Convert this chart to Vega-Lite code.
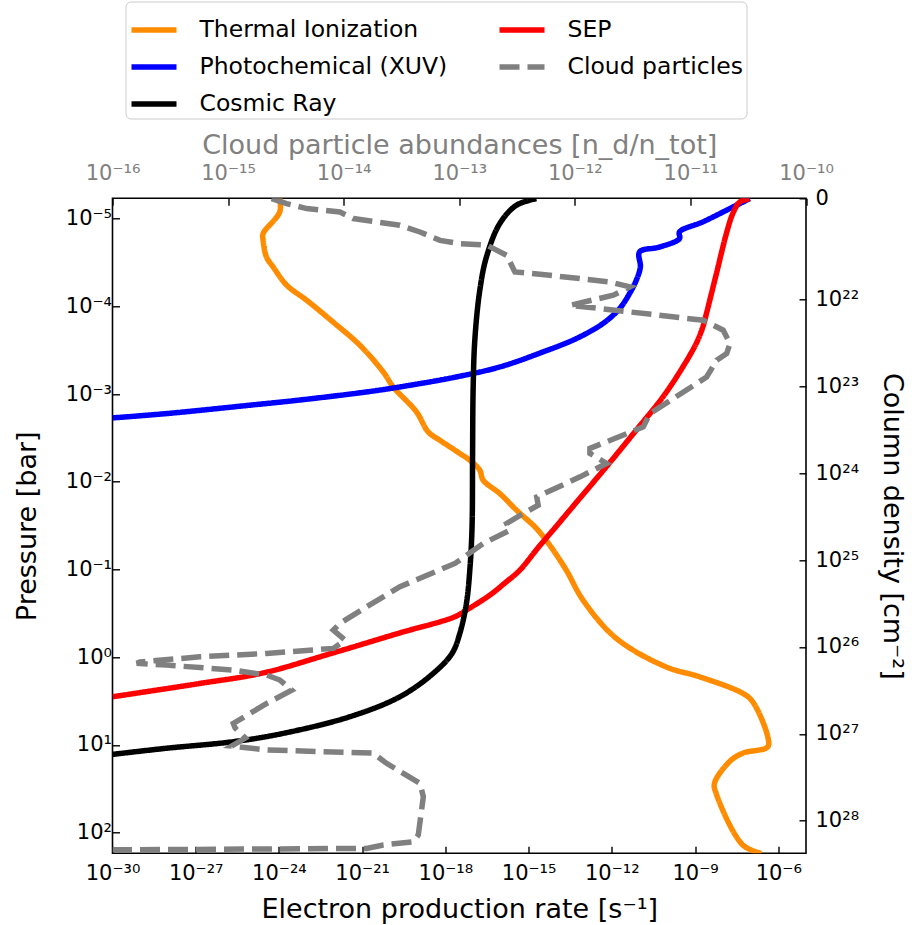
{
  "$schema": "https://vega.github.io/schema/vega-lite/v6.json",
  "width": 693.5,
  "height": 655,
  "autosize": "none",
  "padding": {"left": 112.5, "top": 198.3, "right": 106, "bottom": 71.7},
  "background": "#ffffff",
  "config": {
    "font": "DejaVu Sans",
    "view": {"stroke": "#000000", "strokeWidth": 1.6},
    "axis": {
      "domain": false, "grid": false, "tickColor": "#000000", "tickSize": -7, "tickWidth": 1.4,
      "labelFontSize": 21, "labelColor": "#000000", "labelPadding": 8, "labelFlush": false, "labelOverlap": false,
      "titleFontSize": 27, "titleFontWeight": "normal", "titleColor": "#000000"
    },
    "legend": {
      "orient": "none", "legendX": 13, "legendY": -196.8, "columns": 2,
      "labelFontSize": 23.5, "labelColor": "#000000", "symbolType": "stroke",
      "symbolSize": 2025, "symbolStrokeWidth": 5.5, "labelOffset": 20,
      "columnPadding": 41, "rowPadding": 0, "padding": 3,
      "strokeColor": "#cccccc", "fillColor": "#ffffff", "cornerRadius": 5, "labelLimit": 400
    }
  },
  "datasets": {
    "rates": [
      {"s": "Thermal Ionization", "x": 1.07e-24, "p": 5.92e-6},
      {"s": "Thermal Ionization", "x": 1.07e-24, "p": 8.41e-6},
      {"s": "Thermal Ionization", "x": 2.69e-25, "p": 1.48e-5},
      {"s": "Thermal Ionization", "x": 2.69e-25, "p": 1.77e-5},
      {"s": "Thermal Ionization", "x": 3.55e-25, "p": 2.74e-5},
      {"s": "Thermal Ionization", "x": 6.17e-25, "p": 3.56e-5},
      {"s": "Thermal Ionization", "x": 1.91e-24, "p": 5.75e-5},
      {"s": "Thermal Ionization", "x": 1.0e-23, "p": 8.53e-5},
      {"s": "Thermal Ionization", "x": 8.91e-23, "p": 1.51e-4},
      {"s": "Thermal Ionization", "x": 8.32e-22, "p": 2.78e-4},
      {"s": "Thermal Ionization", "x": 5.75e-21, "p": 5.60e-4},
      {"s": "Thermal Ionization", "x": 1.32e-20, "p": 8.30e-4},
      {"s": "Thermal Ionization", "x": 9.12e-20, "p": 1.60e-3},
      {"s": "Thermal Ionization", "x": 2.40e-19, "p": 2.70e-3},
      {"s": "Thermal Ionization", "x": 6.31e-19, "p": 3.36e-3},
      {"s": "Thermal Ionization", "x": 3.31e-18, "p": 4.75e-3},
      {"s": "Thermal Ionization", "x": 7.59e-18, "p": 5.68e-3},
      {"s": "Thermal Ionization", "x": 1.74e-17, "p": 7.38e-3},
      {"s": "Thermal Ionization", "x": 2.29e-17, "p": 9.59e-3},
      {"s": "Thermal Ionization", "x": 9.12e-17, "p": 1.36e-2},
      {"s": "Thermal Ionization", "x": 3.63e-16, "p": 2.10e-2},
      {"s": "Thermal Ionization", "x": 1.91e-15, "p": 3.40e-2},
      {"s": "Thermal Ionization", "x": 5.75e-15, "p": 5.27e-2},
      {"s": "Thermal Ionization", "x": 2.29e-14, "p": 0.102},
      {"s": "Thermal Ionization", "x": 9.12e-14, "p": 0.223},
      {"s": "Thermal Ionization", "x": 1.45e-12, "p": 0.610},
      {"s": "Thermal Ionization", "x": 9.12e-11, "p": 1.29},
      {"s": "Thermal Ionization", "x": 1.45e-9, "p": 1.67},
      {"s": "Thermal Ionization", "x": 5.25e-8, "p": 2.58},
      {"s": "Thermal Ionization", "x": 1.20e-7, "p": 3.22},
      {"s": "Thermal Ionization", "x": 4.17e-7, "p": 8.05},
      {"s": "Thermal Ionization", "x": 4.17e-7, "p": 10.5},
      {"s": "Thermal Ionization", "x": 5.25e-8, "p": 12.4},
      {"s": "Thermal Ionization", "x": 1.74e-8, "p": 15.5},
      {"s": "Thermal Ionization", "x": 5.01e-9, "p": 27.4},
      {"s": "Thermal Ionization", "x": 5.75e-9, "p": 35.6},
      {"s": "Thermal Ionization", "x": 5.25e-8, "p": 138},
      {"s": "Thermal Ionization", "x": 2.45e-7, "p": 172},
      {"s": "Photochemical (XUV)", "x": 1.02e-30, "p": 1.87e-3},
      {"s": "Photochemical (XUV)", "x": 8.91e-29, "p": 1.67e-3},
      {"s": "Photochemical (XUV)", "x": 8.91e-26, "p": 1.34e-3},
      {"s": "Photochemical (XUV)", "x": 5.62e-24, "p": 1.17e-3},
      {"s": "Photochemical (XUV)", "x": 1.45e-21, "p": 9.46e-4},
      {"s": "Photochemical (XUV)", "x": 2.29e-20, "p": 8.30e-4},
      {"s": "Photochemical (XUV)", "x": 2.19e-18, "p": 6.43e-4},
      {"s": "Photochemical (XUV)", "x": 9.12e-17, "p": 4.91e-4},
      {"s": "Photochemical (XUV)", "x": 3.31e-15, "p": 3.31e-4},
      {"s": "Photochemical (XUV)", "x": 5.25e-14, "p": 2.33e-4},
      {"s": "Photochemical (XUV)", "x": 4.79e-13, "p": 1.57e-4},
      {"s": "Photochemical (XUV)", "x": 1.91e-12, "p": 1.06e-4},
      {"s": "Photochemical (XUV)", "x": 4.37e-12, "p": 7.14e-5},
      {"s": "Photochemical (XUV)", "x": 7.59e-12, "p": 5.05e-5},
      {"s": "Photochemical (XUV)", "x": 1.07e-11, "p": 3.56e-5},
      {"s": "Photochemical (XUV)", "x": 1.0e-11, "p": 2.40e-5},
      {"s": "Photochemical (XUV)", "x": 5.25e-11, "p": 2.11e-5},
      {"s": "Photochemical (XUV)", "x": 2.75e-10, "p": 1.69e-5},
      {"s": "Photochemical (XUV)", "x": 2.75e-10, "p": 1.42e-5},
      {"s": "Photochemical (XUV)", "x": 1.91e-9, "p": 1.09e-5},
      {"s": "Photochemical (XUV)", "x": 3.09e-8, "p": 7.05e-6},
      {"s": "Photochemical (XUV)", "x": 9.33e-8, "p": 5.92e-6},
      {"s": "SEP", "x": 9.33e-8, "p": 5.92e-6},
      {"s": "SEP", "x": 4.07e-8, "p": 6.47e-6},
      {"s": "SEP", "x": 2.29e-8, "p": 8.77e-6},
      {"s": "SEP", "x": 1.35e-8, "p": 1.48e-5},
      {"s": "SEP", "x": 5.89e-9, "p": 4.24e-5},
      {"s": "SEP", "x": 2.57e-9, "p": 1.21e-4},
      {"s": "SEP", "x": 1.91e-9, "p": 1.72e-4},
      {"s": "SEP", "x": 1.10e-9, "p": 2.65e-4},
      {"s": "SEP", "x": 3.63e-10, "p": 4.91e-4},
      {"s": "SEP", "x": 6.92e-11, "p": 1.08e-3},
      {"s": "SEP", "x": 7.59e-12, "p": 2.58e-3},
      {"s": "SEP", "x": 6.31e-13, "p": 6.76e-3},
      {"s": "SEP", "x": 6.92e-14, "p": 1.55e-2},
      {"s": "SEP", "x": 8.7e-15, "p": 3.38e-2},
      {"s": "SEP", "x": 2.14e-15, "p": 5.70e-2},
      {"s": "SEP", "x": 4.79e-16, "p": 0.102},
      {"s": "SEP", "x": 1.38e-16, "p": 0.143},
      {"s": "SEP", "x": 3.98e-17, "p": 0.196},
      {"s": "SEP", "x": 5.75e-18, "p": 0.290},
      {"s": "SEP", "x": 2.19e-18, "p": 0.346},
      {"s": "SEP", "x": 2.29e-20, "p": 0.528},
      {"s": "SEP", "x": 8.91e-23, "p": 0.893},
      {"s": "SEP", "x": 2.69e-25, "p": 1.51},
      {"s": "SEP", "x": 1.41e-27, "p": 1.99},
      {"s": "SEP", "x": 1.02e-30, "p": 2.82},
      {"s": "Cosmic Ray", "x": 1.91e-15, "p": 5.92e-6},
      {"s": "Cosmic Ray", "x": 3.63e-16, "p": 7.05e-6},
      {"s": "Cosmic Ray", "x": 9.12e-17, "p": 1.14e-5},
      {"s": "Cosmic Ray", "x": 3.02e-17, "p": 2.74e-5},
      {"s": "Cosmic Ray", "x": 1.74e-17, "p": 6.56e-5},
      {"s": "Cosmic Ray", "x": 1.15e-17, "p": 2.44e-4},
      {"s": "Cosmic Ray", "x": 1.0e-17, "p": 9.04e-4},
      {"s": "Cosmic Ray", "x": 9.55e-18, "p": 5.20e-3},
      {"s": "Cosmic Ray", "x": 9.12e-18, "p": 3.40e-2},
      {"s": "Cosmic Ray", "x": 7.59e-18, "p": 0.102},
      {"s": "Cosmic Ray", "x": 5.75e-18, "p": 0.243},
      {"s": "Cosmic Ray", "x": 3.31e-18, "p": 0.535},
      {"s": "Cosmic Ray", "x": 1.74e-18, "p": 0.904},
      {"s": "Cosmic Ray", "x": 3.63e-19, "p": 1.53},
      {"s": "Cosmic Ray", "x": 2.29e-20, "p": 2.82},
      {"s": "Cosmic Ray", "x": 3.63e-22, "p": 4.76},
      {"s": "Cosmic Ray", "x": 1.41e-24, "p": 7.38},
      {"s": "Cosmic Ray", "x": 2.24e-26, "p": 9.18},
      {"s": "Cosmic Ray", "x": 8.91e-29, "p": 10.9},
      {"s": "Cosmic Ray", "x": 1.02e-30, "p": 12.8}
    ],
    "cloud": [
      {"s": "Cloud particles", "a": 2.38e-15, "p": 5.92e-6},
      {"s": "Cloud particles", "a": 3.21e-15, "p": 6.75e-6},
      {"s": "Cloud particles", "a": 4.79e-15, "p": 7.69e-6},
      {"s": "Cloud particles", "a": 9.29e-15, "p": 8.41e-6},
      {"s": "Cloud particles", "a": 1.21e-14, "p": 1.0e-5},
      {"s": "Cloud particles", "a": 3.07e-14, "p": 1.19e-5},
      {"s": "Cloud particles", "a": 4.57e-14, "p": 1.42e-5},
      {"s": "Cloud particles", "a": 6.81e-14, "p": 1.77e-5},
      {"s": "Cloud particles", "a": 1.01e-13, "p": 1.93e-5},
      {"s": "Cloud particles", "a": 1.73e-13, "p": 2.01e-5},
      {"s": "Cloud particles", "a": 2.57e-13, "p": 2.62e-5},
      {"s": "Cloud particles", "a": 3.03e-13, "p": 4.06e-5},
      {"s": "Cloud particles", "a": 6.10e-13, "p": 4.43e-5},
      {"s": "Cloud particles", "a": 2.01e-12, "p": 5.27e-5},
      {"s": "Cloud particles", "a": 3.00e-12, "p": 6.01e-5},
      {"s": "Cloud particles", "a": 2.15e-12, "p": 7.48e-5},
      {"s": "Cloud particles", "a": 9.08e-13, "p": 9.73e-5},
      {"s": "Cloud particles", "a": 1.65e-12, "p": 1.06e-4},
      {"s": "Cloud particles", "a": 1.29e-11, "p": 1.44e-4},
      {"s": "Cloud particles", "a": 1.92e-11, "p": 1.87e-4},
      {"s": "Cloud particles", "a": 2.20e-11, "p": 2.65e-4},
      {"s": "Cloud particles", "a": 2.06e-11, "p": 3.45e-4},
      {"s": "Cloud particles", "a": 1.69e-11, "p": 4.11e-4},
      {"s": "Cloud particles", "a": 1.38e-11, "p": 6.38e-4},
      {"s": "Cloud particles", "a": 1.13e-11, "p": 7.59e-4},
      {"s": "Cloud particles", "a": 4.47e-12, "p": 1.67e-3},
      {"s": "Cloud particles", "a": 3.91e-12, "p": 2.37e-3},
      {"s": "Cloud particles", "a": 1.35e-12, "p": 4.17e-3},
      {"s": "Cloud particles", "a": 1.35e-12, "p": 4.75e-3},
      {"s": "Cloud particles", "a": 1.88e-12, "p": 6.18e-3},
      {"s": "Cloud particles", "a": 1.11e-12, "p": 8.79e-3},
      {"s": "Cloud particles", "a": 4.68e-13, "p": 1.49e-2},
      {"s": "Cloud particles", "a": 4.82e-13, "p": 1.85e-2},
      {"s": "Cloud particles", "a": 3.58e-13, "p": 2.30e-2},
      {"s": "Cloud particles", "a": 2.57e-13, "p": 2.99e-2},
      {"s": "Cloud particles", "a": 2.75e-13, "p": 3.56e-2},
      {"s": "Cloud particles", "a": 1.61e-13, "p": 5.05e-2},
      {"s": "Cloud particles", "a": 9.18e-14, "p": 8.53e-2},
      {"s": "Cloud particles", "a": 3.07e-14, "p": 0.157},
      {"s": "Cloud particles", "a": 1.58e-14, "p": 0.266},
      {"s": "Cloud particles", "a": 9.29e-15, "p": 0.411},
      {"s": "Cloud particles", "a": 8.13e-15, "p": 0.491},
      {"s": "Cloud particles", "a": 1.03e-14, "p": 0.638},
      {"s": "Cloud particles", "a": 8.13e-15, "p": 0.793},
      {"s": "Cloud particles", "a": 2.16e-15, "p": 0.904},
      {"s": "Cloud particles", "a": 5.71e-16, "p": 0.989},
      {"s": "Cloud particles", "a": 1.73e-16, "p": 1.13},
      {"s": "Cloud particles", "a": 1.62e-16, "p": 1.17},
      {"s": "Cloud particles", "a": 2.94e-16, "p": 1.23},
      {"s": "Cloud particles", "a": 1.11e-15, "p": 1.40},
      {"s": "Cloud particles", "a": 2.16e-15, "p": 1.60},
      {"s": "Cloud particles", "a": 2.81e-15, "p": 1.82},
      {"s": "Cloud particles", "a": 3.55e-15, "p": 2.37},
      {"s": "Cloud particles", "a": 2.16e-15, "p": 3.36},
      {"s": "Cloud particles", "a": 1.11e-15, "p": 5.68},
      {"s": "Cloud particles", "a": 1.15e-15, "p": 6.41},
      {"s": "Cloud particles", "a": 1.41e-15, "p": 8.34},
      {"s": "Cloud particles", "a": 1.07e-15, "p": 10.3},
      {"s": "Cloud particles", "a": 2.16e-15, "p": 11.4},
      {"s": "Cloud particles", "a": 1.80e-14, "p": 12.4},
      {"s": "Cloud particles", "a": 2.35e-14, "p": 16.2},
      {"s": "Cloud particles", "a": 4.57e-14, "p": 27.4},
      {"s": "Cloud particles", "a": 4.89e-14, "p": 38.9},
      {"s": "Cloud particles", "a": 4.42e-14, "p": 106},
      {"s": "Cloud particles", "a": 4.00e-14, "p": 127},
      {"s": "Cloud particles", "a": 2.20e-14, "p": 138},
      {"s": "Cloud particles", "a": 1.58e-14, "p": 151},
      {"s": "Cloud particles", "a": 1.0e-16, "p": 157}
    ],
    "column": [
      {"column": 1e22},
      {"column": 1e28}
    ]
  },
  "layer": [
    {
      "data": {"name": "rates"},
      "mark": {"type": "line", "strokeWidth": 5.5, "clip": true, "strokeCap": "butt", "strokeJoin": "round", "interpolate": "catmull-rom"},
      "encoding": {
        "x": {
          "field": "x", "type": "quantitative",
          "scale": {"type": "log", "domain": [1e-30, 1e-5]},
          "axis": {
            "orient": "bottom", "title": "Electron production rate [s⁻¹]", "titlePadding": 13, "labelPadding": 16,
            "values": [1e-30, 1e-27, 1e-24, 1e-21, 1e-18, 1e-15, 1e-12, 1e-9, 1e-6],
            "labelExpr": "'10' + (datum.value < 0.5 ? '⁻' : '') + (abs(round(log(datum.value)/LN10)) >= 10 ? substring('⁰¹²³⁴⁵⁶⁷⁸⁹', floor(abs(round(log(datum.value)/LN10))/10), floor(abs(round(log(datum.value)/LN10))/10) + 1) : '') + substring('⁰¹²³⁴⁵⁶⁷⁸⁹', abs(round(log(datum.value)/LN10)) % 10, abs(round(log(datum.value)/LN10)) % 10 + 1)"
          }
        },
        "y": {
          "field": "p", "type": "quantitative",
          "scale": {"type": "log", "domain": [5.87e-6, 171.8], "reverse": true},
          "axis": {
            "orient": "left", "title": "Pressure [bar]", "titlePadding": 24,
            "values": [1e-5, 1e-4, 1e-3, 1e-2, 1e-1, 1, 10, 100],
            "labelExpr": "'10' + (datum.value < 0.5 ? '⁻' : '') + (abs(round(log(datum.value)/LN10)) >= 10 ? substring('⁰¹²³⁴⁵⁶⁷⁸⁹', floor(abs(round(log(datum.value)/LN10))/10), floor(abs(round(log(datum.value)/LN10))/10) + 1) : '') + substring('⁰¹²³⁴⁵⁶⁷⁸⁹', abs(round(log(datum.value)/LN10)) % 10, abs(round(log(datum.value)/LN10)) % 10 + 1)"
          }
        },
        "order": {"field": "p", "type": "quantitative"},
        "color": {
          "field": "s", "type": "nominal", "title": null,
          "scale": {
            "domain": ["Thermal Ionization", "Photochemical (XUV)", "Cosmic Ray", "SEP", "Cloud particles"],
            "range": ["#ff8c00", "#0000ff", "#000000", "#ff0000", "#808080"]
          }
        },
        "strokeDash": {
          "field": "s", "type": "nominal", "title": null,
          "scale": {
            "domain": ["Thermal Ionization", "Photochemical (XUV)", "Cosmic Ray", "SEP", "Cloud particles"],
            "range": [[1, 0], [1, 0], [1, 0], [1, 0], [20, 8]]
          }
        }
      }
    },
    {
      "data": {"name": "cloud"},
      "mark": {"type": "line", "strokeWidth": 5.5, "clip": true, "strokeCap": "butt"},
      "encoding": {
        "x": {
          "field": "a", "type": "quantitative",
          "scale": {"type": "log", "domain": [1e-16, 1e-10]},
          "axis": {
            "orient": "top", "title": "Cloud particle abundances [n_d/n_tot]", "titlePadding": 3, "labelPadding": 22,
            "labelColor": "#808080", "titleColor": "#808080",
            "values": [1e-16, 1e-15, 1e-14, 1e-13, 1e-12, 1e-11, 1e-10],
            "labelExpr": "'10' + (datum.value < 0.5 ? '⁻' : '') + (abs(round(log(datum.value)/LN10)) >= 10 ? substring('⁰¹²³⁴⁵⁶⁷⁸⁹', floor(abs(round(log(datum.value)/LN10))/10), floor(abs(round(log(datum.value)/LN10))/10) + 1) : '') + substring('⁰¹²³⁴⁵⁶⁷⁸⁹', abs(round(log(datum.value)/LN10)) % 10, abs(round(log(datum.value)/LN10)) % 10 + 1)"
          }
        },
        "y": {
          "field": "p", "type": "quantitative",
          "scale": {"type": "log", "domain": [5.87e-6, 171.8], "reverse": true},
          "axis": null
        },
        "order": {"field": "p", "type": "quantitative"},
        "color": {"field": "s", "type": "nominal", "title": null},
        "strokeDash": {"field": "s", "type": "nominal", "title": null}
      }
    },
    {
      "data": {"name": "column"},
      "mark": {"type": "point", "opacity": 0},
      "encoding": {
        "y": {
          "field": "column", "type": "quantitative",
          "scale": {"type": "log", "domain": [6.85e20, 2.37e28], "reverse": true},
          "axis": {
            "orient": "right", "title": "Column density [cm⁻²]", "titlePadding": 19, "labelPadding": 16,
            "values": [6.85e20, 1e22, 1e23, 1e24, 1e25, 1e26, 1e27, 1e28],
            "labelExpr": "datum.value < 1e21 ? '0' : ('10' + (abs(round(log(datum.value)/LN10)) >= 10 ? substring('⁰¹²³⁴⁵⁶⁷⁸⁹', floor(abs(round(log(datum.value)/LN10))/10), floor(abs(round(log(datum.value)/LN10))/10) + 1) : '') + substring('⁰¹²³⁴⁵⁶⁷⁸⁹', abs(round(log(datum.value)/LN10)) % 10, abs(round(log(datum.value)/LN10)) % 10 + 1))"
          }
        }
      }
    }
  ],
  "resolve": {"scale": {"x": "independent", "y": "independent"}}
}
